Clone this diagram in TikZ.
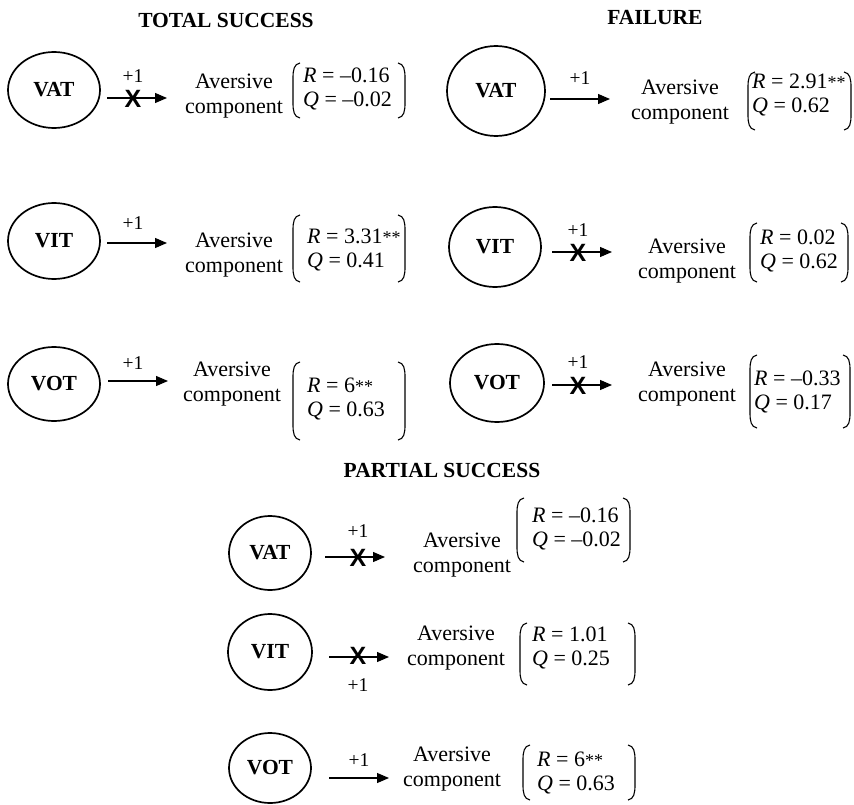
\documentclass[tikz,border=0pt]{standalone}
\usepackage{fontspec}
\setmainfont{Liberation Serif}
\newfontfamily\xfont{Liberation Sans}
\usetikzlibrary{arrows.meta,shapes.geometric}
\newcommand\twoast{{\fontsize{18}{18}\selectfont\raisebox{0.5pt}{**}}}
\newcommand\brk[4]{%
  \draw[brkline] ({#1+7},#3) .. controls ({#1+1},{#3+1}) and (#1,{#3+7}) .. (#1,{#3+15}) -- (#1,{#4-15}) .. controls (#1,{#4-7}) and ({#1+1},{#4-1}) .. ({#1+7},#4);
  \draw[brkline] ({#2-7},#3) .. controls ({#2-1},{#3+1}) and (#2,{#3+7}) .. (#2,{#3+15}) -- (#2,{#4-15}) .. controls (#2,{#4-7}) and ({#2-1},{#4-1}) .. ({#2-7},#4);}
\tikzset{
  ell/.style={ellipse, draw, line width=1.7pt, inner sep=0pt, font=\bfseries\fontsize{21.5}{24}\selectfont},
  title/.style={font=\bfseries\fontsize{21.5}{24}\selectfont},
  comp/.style={align=center, font=\fontsize{22}{25.5}\selectfont, inner sep=0pt},
  rq/.style={align=left, anchor=west, font=\fontsize{22}{23.5}\selectfont, inner sep=0pt},
  plus/.style={font=\fontsize{19.5}{20}\selectfont, inner sep=0pt},
  xmark/.style={font=\xfont\bfseries\fontsize{25}{25}\selectfont, inner sep=0pt},
  arr/.style={line width=1.1pt, -{Triangle[length=12pt,width=10pt]}},
  brkline/.style={line width=1.1pt}
}
\begin{document}
\begin{tikzpicture}[x=1pt,y=-1pt]
\useasboundingbox (0,0) rectangle (854,805);
% titles
\node[title] (t1) at (226,20) {TOTAL SUCCESS};
\node[title] (t2) at (655,18) {FAILURE};
\node[title] (t3) at (442,470) {PARTIAL SUCCESS};

% ---------- TOTAL SUCCESS ----------
% row 1
\node[ell, minimum width=92pt, minimum height=76pt] (e1) at (54,90) {VAT};
\coordinate (s1) at (107,98); \coordinate (f1) at (167,98);
\draw[arr] (s1) -- (f1);
\node[plus] (p1) at (133,76) {+1};
\node[xmark] (x1) at (133,99) {X};
\node[comp] (c1) at (234,96) {Aversive\\component};
\node[rq] (r1) at (303,89) {\textit{R} = –0.16\\\textit{Q} = –0.02};
\brk{293}{405}{63}{118}
% row 2
\node[ell, minimum width=92pt, minimum height=76pt] (e2) at (54,241) {VIT};
\coordinate (s2) at (107,243); \coordinate (f2) at (167,243);
\draw[arr] (s2) -- (f2);
\node[plus] (p2) at (133,223) {+1};
\node[comp] (c2) at (234,255) {Aversive\\component};
\node[rq] (r2) at (307,250) {\textit{R} = 3.31\twoast\\\textit{Q} = 0.41};
\brk{293}{405}{215}{282}
% row 3
\node[ell, minimum width=92pt, minimum height=74pt] (e3) at (54,384) {VOT};
\coordinate (s3) at (108,381); \coordinate (f3) at (168,381);
\draw[arr] (s3) -- (f3);
\node[plus] (p3) at (133,363) {+1};
\node[comp] (c3) at (232,384) {Aversive\\component};
\node[rq] (r3) at (307,399) {\textit{R} = 6\twoast\\\textit{Q} = 0.63};
\brk{293}{405}{362}{440}

% ---------- FAILURE ----------
% row 1
\node[ell, minimum width=98pt, minimum height=90pt] (e4) at (496,91) {VAT};
\coordinate (s4) at (550,99); \coordinate (f4) at (610,99);
\draw[arr] (s4) -- (f4);
\node[plus] (p4) at (580,78) {+1};
\node[comp] (c4) at (680,102) {Aversive\\component};
\node[rq] (r4) at (752,95) {\textit{R} = 2.91\twoast\\\textit{Q} = 0.62};
\brk{748}{851}{72}{130}
% row 2
\node[ell, minimum width=92pt, minimum height=80pt] (e5) at (495,247) {VIT};
\coordinate (s5) at (552,252); \coordinate (f5) at (612,252);
\draw[arr] (s5) -- (f5);
\node[plus] (p5) at (578,230) {+1};
\node[xmark] (x5) at (578,253) {X};
\node[comp] (c5) at (687,261) {Aversive\\component};
\node[rq] (r5) at (760,251) {\textit{R} = 0.02\\\textit{Q} = 0.62};
\brk{750}{848}{223}{282}
% row 3
\node[ell, minimum width=94pt, minimum height=78pt] (e6) at (497,383) {VOT};
\coordinate (s6) at (552,385); \coordinate (f6) at (612,385);
\draw[arr] (s6) -- (f6);
\node[plus] (p6) at (578,362) {+1};
\node[xmark] (x6) at (578,386) {X};
\node[comp] (c6) at (687,384) {Aversive\\component};
\node[rq] (r6) at (754,392) {\textit{R} = –0.33\\\textit{Q} = 0.17};
\brk{750}{850}{355}{428}

% ---------- PARTIAL SUCCESS ----------
% row 1
\node[ell, minimum width=82pt, minimum height=74pt] (e7) at (270,553) {VAT};
\coordinate (s7) at (325,557); \coordinate (f7) at (385,557);
\draw[arr] (s7) -- (f7);
\node[plus] (p7) at (358,531) {+1};
\node[xmark] (x7) at (358,558) {X};
\node[comp] (c7) at (462,555) {Aversive\\component};
\node[rq] (r7) at (532,529) {\textit{R} = –0.16\\\textit{Q} = –0.02};
\brk{517}{630}{498}{562}
% row 2
\node[ell, minimum width=84pt, minimum height=76pt] (e8) at (270,652) {VIT};
\coordinate (s8) at (329,657); \coordinate (f8) at (389,657);
\draw[arr] (s8) -- (f8);
\node[xmark] (x8) at (358,656) {X};
\node[plus] (p8) at (358,685) {+1};
\node[comp] (c8) at (456,648) {Aversive\\component};
\node[rq] (r8) at (532,648) {\textit{R} = 1.01\\\textit{Q} = 0.25};
\brk{520}{635}{623}{685}
% row 3
\node[ell, minimum width=82pt, minimum height=70pt] (e9) at (270,768) {VOT};
\coordinate (s9) at (329,778); \coordinate (f9) at (389,778);
\draw[arr] (s9) -- (f9);
\node[plus] (p9) at (359,760) {+1};
\node[comp] (c9) at (452,769) {Aversive\\component};
\node[rq] (r9) at (537,773) {\textit{R} = 6\twoast\\\textit{Q} = 0.63};
\brk{523}{635}{745}{800}
\end{tikzpicture}
\end{document}
